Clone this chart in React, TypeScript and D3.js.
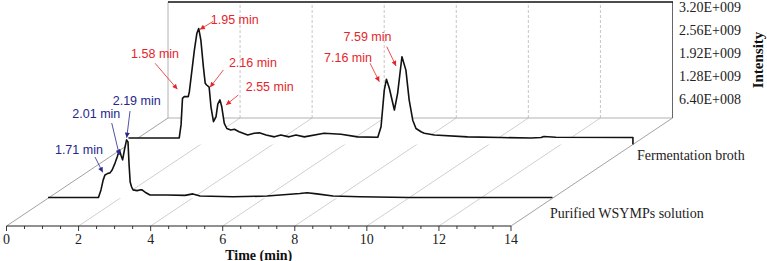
import React from 'react';
import * as d3 from 'd3';

// ---------- data ----------
const timeTicks = [0, 2, 4, 6, 8, 10, 12, 14];
const minorTimeTicks = d3.range(0, 14.01, 0.5);
const intensityTicks = [0.64, 1.28, 1.92, 2.56, 3.2]; // x 1e9
const intensityLabels = ['6.40E+008', '1.28E+009', '1.92E+009', '2.56E+009', '3.20E+009'];
const seriesNames = ['Purified WSYMPs solution', 'Fermentation broth'];

const frontTimes = [0, 1.40, 1.47, 1.53, 1.58, 1.65, 1.72, 1.78, 1.86, 1.92, 1.98, 2.03, 2.07, 2.12, 2.18, 2.22, 2.25, 2.28, 2.32, 2.36, 2.47, 2.55, 2.61, 2.72, 2.83, 3.30, 3.80, 4.02, 4.22, 5.13, 6.08, 6.99, 7.19, 7.46, 7.91, 8.66, 10, 12, 14];
const frontValues = [0.02, 0.02, 0.23, 0.50, 0.64, 0.68, 0.70, 0.78, 0.97, 1.14, 1.33, 1.17, 1.06, 1.33, 1.61, 1.55, 0.92, 0.45, 0.31, 0.23, 0.21, 0.23, 0.23, 0.15, 0.09, 0.09, 0.08, 0.12, 0.06, 0.04, 0.06, 0.13, 0.15, 0.12, 0.06, 0.04, 0.02, 0.02, 0.02];

const backTimes = [0, 1.41, 1.46, 1.50, 1.55, 1.66, 1.69, 1.73, 1.83, 1.90, 1.95, 2.01, 2.08, 2.13, 2.17, 2.24, 2.29, 2.36, 2.43, 2.48, 2.54, 2.59, 2.66, 2.73, 2.84, 2.94, 3.07, 3.31, 3.49, 3.63, 3.82, 4.05, 4.23, 4.46, 4.65, 4.88, 5.43, 5.90, 6.36, 6.92, 7.01, 7.10, 7.16, 7.24, 7.38, 7.47, 7.59, 7.70, 7.79, 7.89, 7.98, 8.12, 8.21, 8.49, 9.41, 10.34, 11.17, 11.45, 11.53, 11.86, 14, 14];
const backValues = [0.18, 0.18, 0.54, 1.27, 1.32, 1.32, 1.45, 1.78, 2.60, 3.07, 3.20, 2.88, 2.14, 1.69, 1.64, 1.58, 1.04, 0.63, 0.76, 1.11, 1.23, 1.04, 0.58, 0.44, 0.40, 0.42, 0.35, 0.26, 0.31, 0.32, 0.26, 0.21, 0.26, 0.21, 0.26, 0.21, 0.31, 0.28, 0.21, 0.20, 0.49, 1.50, 1.80, 1.55, 0.95, 1.41, 2.42, 2.05, 1.23, 0.67, 0.44, 0.35, 0.31, 0.26, 0.21, 0.19, 0.18, 0.19, 0.22, 0.20, 0.19, 0];

const frontPeaks = [1.71, 2.01, 2.19];
const backPeaks = [1.58, 1.95, 2.16, 2.55, 7.16, 7.59];

// ---------- layout ----------
const W = 767, H = 261;
const AXIS_Y = 226;
const SERIES_DEPTH = [0.257, 0.755];
const RED = '#e5252b';
const BLUE = '#26268c';
// offsets from the peak's baseline point: tip, arrow start, text centre
const frontLabelLayout = [
  { tip: [-6.9, -25.9], start: [-14.6, -41.2], text: [-30.7, -48.2] },
  { tip: [-1.1, -43.2], start: [-8.7, -75.2], text: [-24.1, -83.9] },
  { tip: [-0.2, -60.5], start: [3.1, -87.2], text: [9.8, -97.2] },
];
const backLabelLayout = [
  { tip: [-8, -55.2], start: [-30.3, -81.2], text: [-30.3, -90.2] },
  { tip: [1.2, -115], start: [14.3, -123], text: [36.1, -124.5] },
  { tip: [3.8, -57.2], start: [17.1, -74.5], text: [46.6, -81.2] },
  { tip: [5.7, -39.5], start: [18, -49.5], text: [49.4, -57.2] },
  { tip: [-7.1, -62.8], start: [-16.4, -81.2], text: [-38.4, -86.8] },
  { tip: [-5.9, -78.5], start: [-15.2, -97.8], text: [-34.4, -107.2] },
];

const x = d3.scaleLinear().domain([0, 14]).range([6.5, 511]);
const depthX = d3.scaleLinear().domain([0, 1]).range([0, 161.5]);
const depthY = d3.scaleLinear().domain([0, 1]).range([0, -108]);
const h = d3.scaleLinear().domain([0, 3.2]).range([0, 116]);

const px = (t: number, d: number) => x(t) + depthX(d);
const py = (v: number, d: number) => AXIS_Y + depthY(d) - h(v);

export default function App() {
  const serif = '"Liberation Serif", "Times New Roman", serif';
  const sans = '"Liberation Sans", Arial, sans-serif';

  const series = [
    { times: frontTimes, values: frontValues, depth: SERIES_DEPTH[0] },
    { times: backTimes, values: backValues, depth: SERIES_DEPTH[1] },
  ];

  const backX0 = px(0, 1), backX1 = px(14, 1);
  const backYb = py(0, 1), backYt = py(3.2, 1);

  const renderSeries = (s: typeof series[0], key: string) => {
    const pts = s.times.map((t, i) => [t, s.values[i]] as [number, number]);
    const area = d3.area<[number, number]>()
      .x(p => px(p[0], s.depth))
      .y0(() => py(0, s.depth))
      .y1(p => py(p[1], s.depth));
    const line = d3.line<[number, number]>()
      .x(p => px(p[0], s.depth))
      .y(p => py(p[1], s.depth));
    return (
      <g key={key}>
        <path d={area(pts) || ''} fill="#fff" stroke="none" />
        <path d={line(pts) || ''} fill="none" stroke="#111" strokeWidth={1.6} strokeLinejoin="round" />
      </g>
    );
  };

  const renderLabels = (peaks: number[], layout: typeof backLabelLayout, depth: number, color: string, marker: string) =>
    peaks.map((t, i) => {
      const ax = px(t, depth), ay = py(0, depth);
      const L = layout[i];
      return (
        <g key={`${marker}-${i}`}>
          <line x1={ax + L.start[0]} y1={ay + L.start[1]} x2={ax + L.tip[0]} y2={ay + L.tip[1]}
            stroke={color} strokeWidth={0.8} markerEnd={`url(#${marker})`} />
          <text x={ax + L.text[0]} y={ay + L.text[1]} fill={color} fontFamily={sans} fontSize={12.5}
            textAnchor="middle" dominantBaseline="central">{`${t.toFixed(2)} min`}</text>
        </g>
      );
    });

  return (
    <svg width={W} height={H} style={{ position: 'absolute', left: 0, top: 0, background: '#fff' }}>
      <defs>
        <marker id="arrRed" viewBox="0 0 10 10" refX={10} refY={5} markerWidth={6} markerHeight={5}
          markerUnits="userSpaceOnUse" orient="auto">
          <path d="M0,0 L10,5 L0,10 z" fill={RED} />
        </marker>
        <marker id="arrBlue" viewBox="0 0 10 10" refX={10} refY={5} markerWidth={6} markerHeight={5}
          markerUnits="userSpaceOnUse" orient="auto">
          <path d="M0,0 L10,5 L0,10 z" fill={BLUE} />
        </marker>
      </defs>
      <rect width={W} height={H} fill="#fff" />

      {/* floor diagonals */}
      {timeTicks.map(t => (
        <line key={`diag-${t}`} x1={px(t, 0)} y1={py(0, 0)} x2={px(t, 1)} y2={py(0, 1)}
          stroke={t === 0 || t === 14 ? '#8a8a8a' : '#c4c4c4'} strokeWidth={0.8} />
      ))}
      {/* back wall */}
      <line x1={backX0} y1={backYb} x2={backX1} y2={backYb} stroke="#a0a0a0" strokeWidth={0.8} />
      <line x1={backX0} y1={backYb} x2={backX0} y2={backYt} stroke="#a0a0a0" strokeWidth={0.8} />
      {timeTicks.filter(t => t > 0 && t < 14).map(t => (
        <line key={`vd-${t}`} x1={px(t, 1)} y1={backYb} x2={px(t, 1)} y2={backYt}
          stroke="#b8b8b8" strokeWidth={0.8} strokeDasharray="3,2" />
      ))}
      <line x1={backX1} y1={backYb} x2={backX1} y2={backYt} stroke="#555" strokeWidth={0.9} />
      <line x1={backX0} y1={backYt} x2={backX1 + 0.5} y2={backYt} stroke="#111" strokeWidth={1.3} />

      {/* series: back first, then front */}
      {renderSeries(series[1], 'back')}
      {renderSeries(series[0], 'front')}

      {/* front axis */}
      <line x1={x(0)} y1={AXIS_Y} x2={x(14)} y2={AXIS_Y} stroke="#222" strokeWidth={1} />
      {minorTimeTicks.map(t => {
        const major = Math.abs(t - Math.round(t / 2) * 2) < 1e-6;
        return <line key={`tk-${t}`} x1={x(t)} y1={AXIS_Y} x2={x(t)} y2={AXIS_Y + (major ? 5 : 3)}
          stroke="#222" strokeWidth={0.9} />;
      })}
      {timeTicks.map(t => (
        <text key={`tl-${t}`} x={x(t)} y={243.5} textAnchor="middle" fontFamily={serif} fontSize={14} fill="#222">{t}</text>
      ))}
      <text x={x(7)} y={259.5} textAnchor="middle" fontFamily={serif} fontSize={14} fontWeight="bold" fill="#111">Time (min)</text>

      {/* intensity axis labels */}
      {intensityTicks.map((v, i) => (
        <text key={`il-${i}`} x={679} y={py(v, 1) + 5} dominantBaseline="central" fontFamily={serif}
          fontSize={14} fill="#222">{intensityLabels[i]}</text>
      ))}
      <text transform="translate(758,60) rotate(-90)" textAnchor="middle" dominantBaseline="central"
        fontFamily={serif} fontSize={15} fontWeight="bold" fill="#111">Intensity</text>

      {/* series names */}
      <text x={637} y={155} dominantBaseline="central" fontFamily={serif} fontSize={14} fill="#222">{seriesNames[1]}</text>
      <text x={550} y={213} dominantBaseline="central" fontFamily={serif} fontSize={14} fill="#222">{seriesNames[0]}</text>

      {/* peak annotations */}
      {renderLabels(backPeaks, backLabelLayout, SERIES_DEPTH[1], RED, 'arrRed')}
      {renderLabels(frontPeaks, frontLabelLayout, SERIES_DEPTH[0], BLUE, 'arrBlue')}
    </svg>
  );
}
